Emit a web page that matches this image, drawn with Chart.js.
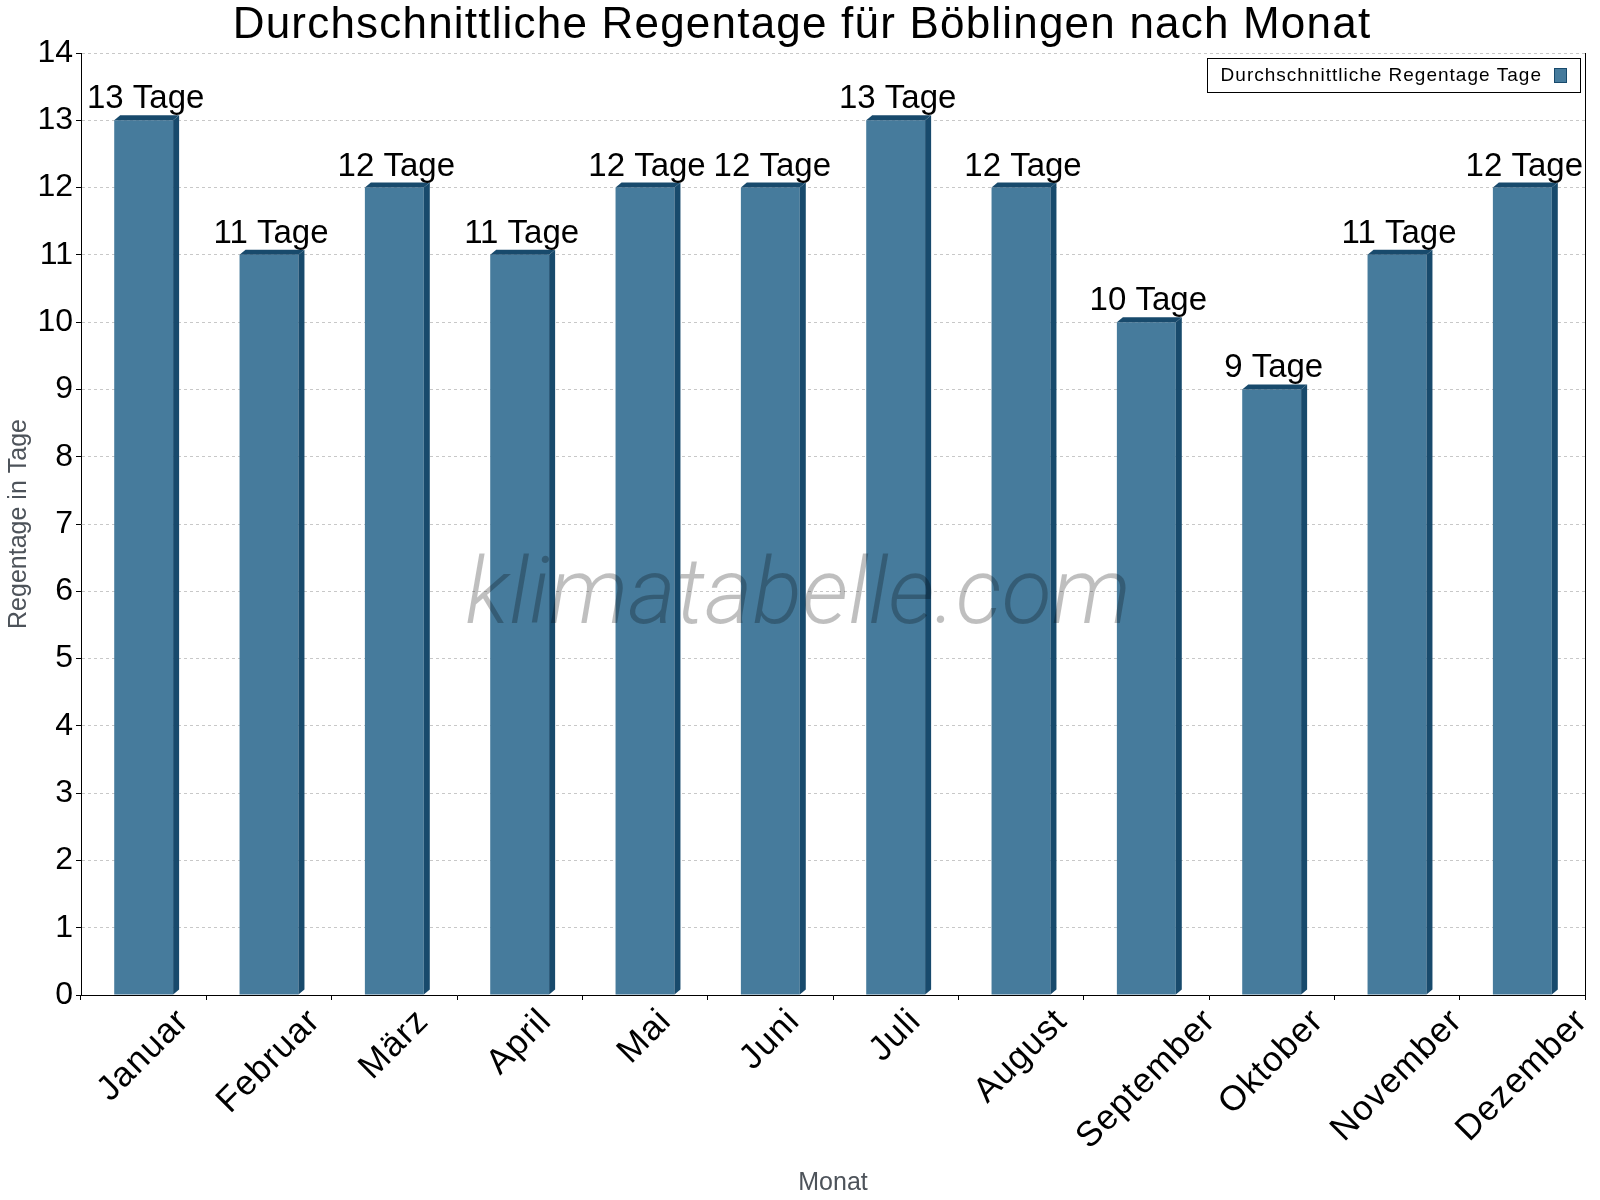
<!DOCTYPE html>
<html lang="de">
<head>
<meta charset="utf-8">
<title>Regentage Böblingen</title>
<script src="https://cdn.jsdelivr.net/npm/chart.js@4.4.1/dist/chart.umd.min.js"></script>
<style>
    html, body { margin: 0; padding: 0; background: #fff; }
    #wrap { width: 1600px; height: 1200px; }
</style>
</head>
<body>
<div id="wrap"><canvas id="regen-chart" width="1600" height="1200"></canvas></div>
<script>
'use strict';

// Daten
const MONATE = ['Januar', 'Februar', 'März', 'April', 'Mai', 'Juni', 'Juli', 'August', 'September', 'Oktober', 'November', 'Dezember'];
const REGENTAGE = [13, 11, 12, 11, 12, 12, 13, 12, 10, 9, 11, 12];
const EINHEIT = 'Tage';
const Y_MIN = 0;
const Y_MAX = 14;
const Y_SCHRITT = 1;

const TITEL = 'Durchschnittliche Regentage für Böblingen nach Monat';
const LEGENDE = 'Durchschnittliche Regentage Tage';
const WASSERZEICHEN = 'klimatabelle.com';

const FONT = '"Liberation Sans", Arial, sans-serif';
const FARBE_VORNE = '#467b9c';
const FARBE_SEITE = '#184a6c';
const TIEFE_X = 6;
const TIEFE_Y = 5;

// 3D-Kanten und Werte über den Balken
const balken3d = {
    id: 'balken3d',
    afterDatasetsDraw(chart) {
        const ctx = chart.ctx;
        const meta = chart.getDatasetMeta(0);
        ctx.save();
        meta.data.forEach((bar, i) => {
            const { x, y, base, width } = bar.getProps(['x', 'y', 'base', 'width'], true);
            const l = x - width / 2;
            const r = x + width / 2;
            ctx.fillStyle = FARBE_SEITE;
            ctx.beginPath();
            ctx.moveTo(r, y);
            ctx.lineTo(r + TIEFE_X, y - TIEFE_Y);
            ctx.lineTo(r + TIEFE_X, base - TIEFE_Y);
            ctx.lineTo(r, base);
            ctx.closePath();
            ctx.fill();
            ctx.beginPath();
            ctx.moveTo(l, y);
            ctx.lineTo(l + TIEFE_X, y - TIEFE_Y);
            ctx.lineTo(r + TIEFE_X, y - TIEFE_Y);
            ctx.lineTo(r, y);
            ctx.closePath();
            ctx.fill();

            ctx.fillStyle = '#000';
            ctx.font = `33px ${FONT}`;
            ctx.textAlign = 'center';
            ctx.textBaseline = 'alphabetic';
            ctx.fillText(`${REGENTAGE[i]} ${EINHEIT}`, x + 2, y - 12);
        });
        ctx.restore();
    }
};

// Titel, gedrehte Monatsnamen, Legende, rechte Achse, Wasserzeichen
const deko = {
    id: 'deko',
    afterDraw(chart) {
        const ctx = chart.ctx;
        const ca = chart.chartArea;
        const xs = chart.scales.x;

        ctx.save();
        // rechte Achsenlinie
        ctx.strokeStyle = '#000';
        ctx.lineWidth = 1;
        ctx.beginPath();
        ctx.moveTo(Math.round(ca.right) + 0.5, ca.top);
        ctx.lineTo(Math.round(ca.right) + 0.5, ca.bottom);
        ctx.stroke();

        // Titel
        ctx.fillStyle = '#000';
        ctx.font = `44px ${FONT}`;
        ctx.letterSpacing = '1.2px';
        ctx.textAlign = 'center';
        ctx.textBaseline = 'alphabetic';
        ctx.fillText(TITEL, chart.width / 2 + 2, 38);

        // Monatsnamen, 45° gedreht, mittig unter der Kategorie
        ctx.font = `35px ${FONT}`;
        ctx.letterSpacing = '1px';
        ctx.textAlign = 'center';
        ctx.textBaseline = 'middle';
        MONATE.forEach((m, i) => {
            const px = xs.getPixelForTick(i);
            const w = ctx.measureText(m).width;
            const h = 25;
            const half = (w + h) * Math.SQRT1_2 / 2;
            ctx.save();
            ctx.translate(px, ca.bottom + 12 + half);
            ctx.rotate(-Math.PI / 4);
            ctx.fillText(m, 0, 0);
            ctx.restore();
        });

        // Legende
        ctx.font = `19px ${FONT}`;
        ctx.letterSpacing = '1px';
        const tw = ctx.measureText(LEGENDE).width;
        const bx2 = ca.right - 5;
        const by = ca.top + 5;
        const bh = 34;
        const bx1 = bx2 - (tw + 52);
        ctx.fillStyle = '#fff';
        ctx.fillRect(bx1, by, bx2 - bx1, bh);
        ctx.strokeStyle = '#000';
        ctx.strokeRect(Math.round(bx1) + 0.5, Math.round(by) + 0.5, Math.round(bx2 - bx1), bh);
        ctx.fillStyle = '#000';
        ctx.textAlign = 'left';
        ctx.textBaseline = 'alphabetic';
        ctx.fillText(LEGENDE, bx1 + 14, by + 23);
        ctx.fillStyle = FARBE_VORNE;
        ctx.fillRect(bx2 - 26, by + 10, 13, 15);
        ctx.strokeStyle = FARBE_SEITE;
        ctx.strokeRect(Math.round(bx2 - 26) + 0.5, Math.round(by + 10) + 0.5, 12, 14);

        // Wasserzeichen
        ctx.letterSpacing = '0px';
        ctx.font = `italic 300 92px Roboto, ${FONT}`;
        ctx.fillStyle = 'rgba(0, 0, 0, 0.25)';
        ctx.textAlign = 'center';
        ctx.textBaseline = 'alphabetic';
        ctx.fillText(WASSERZEICHEN, 798, 623);
        ctx.restore();
    }
};

const regenChart = new Chart(document.getElementById('regen-chart').getContext('2d'), {
    type: 'bar',
    data: {
        labels: MONATE,
        datasets: [{
            label: LEGENDE,
            data: REGENTAGE,
            backgroundColor: FARBE_VORNE,
            borderWidth: 0,
            categoryPercentage: 1,
            barPercentage: 0.47
        }]
    },
    options: {
        responsive: false,
        animation: false,
        events: [],
        layout: { padding: { top: 53, right: 15, left: 0, bottom: 0 } },
        plugins: {
            legend: { display: false },
            title: { display: false },
            tooltip: { enabled: false }
        },
        scales: {
            x: {
                offset: true,
                grid: { display: true, offset: true, drawOnChartArea: false, drawTicks: true, tickLength: 5, color: '#000' },
                border: { display: true, color: '#000', width: 1 },
                ticks: { display: false },
                title: {
                    display: true, text: 'Monat', color: '#4d535a',
                    font: { size: 25, family: FONT }, padding: { top: 0, bottom: 2 }
                },
                afterFit: (s) => { s.height = 205; }
            },
            y: {
                min: Y_MIN,
                max: Y_MAX,
                ticks: { stepSize: Y_SCHRITT, color: '#000', font: { size: 32, family: FONT }, padding: 3 },
                grid: { color: '#c8c8c8', tickColor: '#000', tickLength: 5 },
                border: { display: true, color: '#000', width: 1, dash: [3, 3] },
                title: {
                    display: true, text: 'Regentage in Tage', color: '#4d535a',
                    font: { size: 25, family: FONT }, padding: { top: 4, bottom: 0 }
                },
                afterFit: (s) => { s.width = 81; }
            }
        }
    },
    plugins: [balken3d, deko]
});
</script>
</body>
</html>
